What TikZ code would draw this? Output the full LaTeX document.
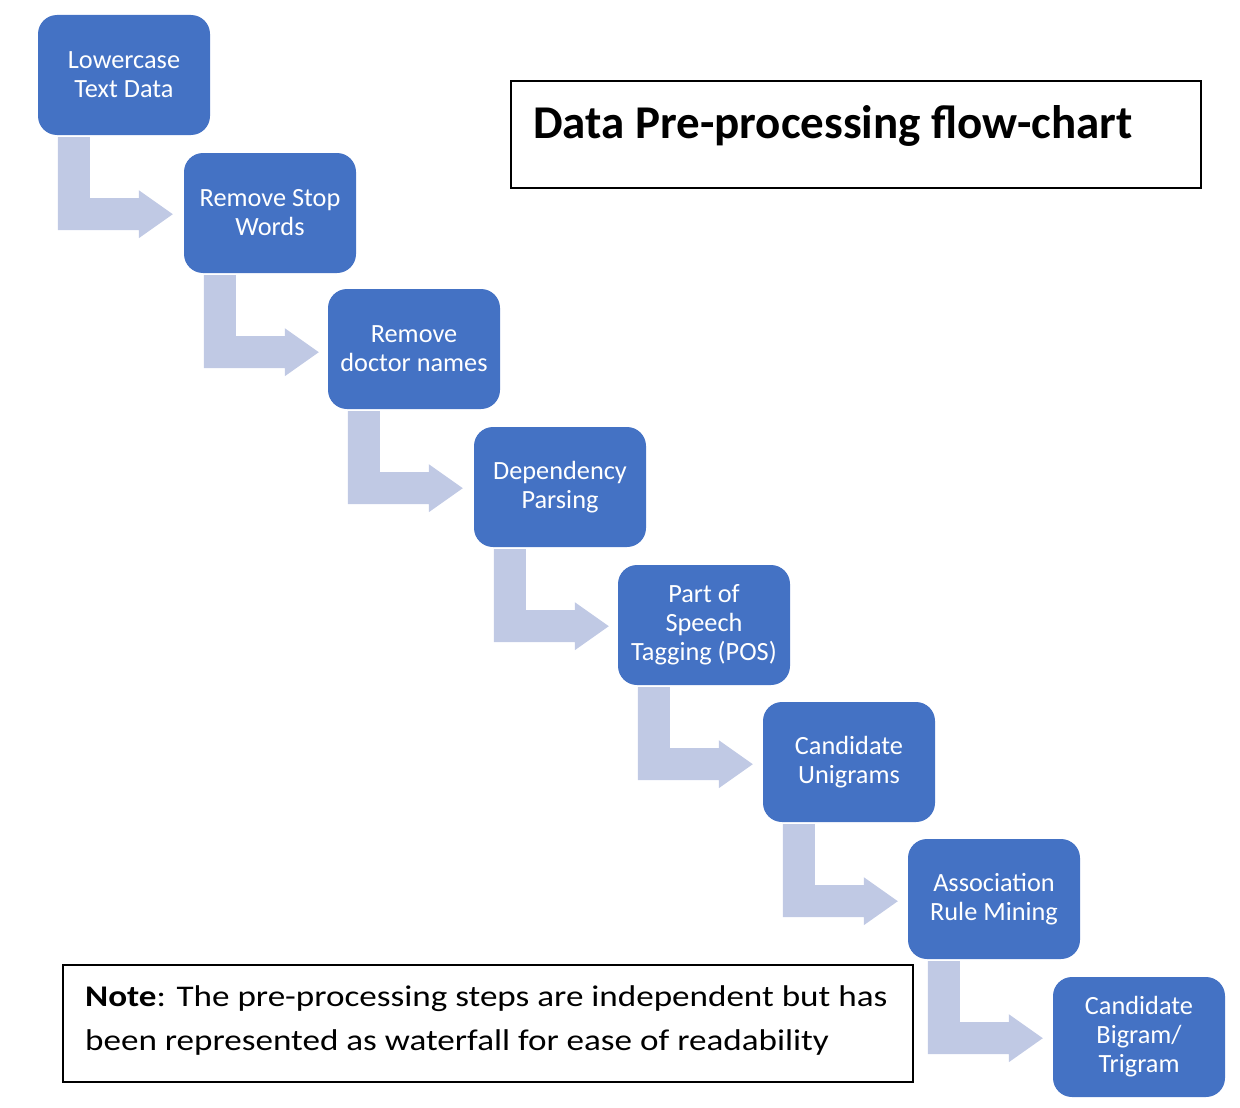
\documentclass[tikz,border=0pt]{standalone}
\usepackage{fontspec}
\setmainfont{Carlito}
\newfontfamily\notefont[FakeStretch=1.17]{Carlito}
\definecolor{boxblue}{HTML}{4472C4}
\definecolor{arrowblue}{HTML}{C0C9E4}
\tikzset{
  stepbox/.style={fill=boxblue, rounded corners=19pt, minimum width=172pt, minimum height=120pt,
    inner sep=0pt, text=white, align=center, font=\fontsize{26.3pt}{29pt}\selectfont},
  arrowshape/.style={fill=arrowblue},
  framebox/.style={draw=black, line width=1.8pt},
  notetext/.style={anchor=base west, inner sep=0pt, font=\notefont\fontsize{30pt}{36pt}\selectfont}
}
\newcommand\bentarrow[1]{%
  \fill[arrowshape, shift={(#1.south west)}] (20,2) -- (52,2) -- (52,63) -- (101,63) -- (101,55)
    -- (135,79) -- (101,103) -- (101,95) -- (20,95) -- cycle;}
\begin{document}
\begin{tikzpicture}[x=1pt,y=-1pt]
\useasboundingbox (0,0) rectangle (1240,1108);
\node[stepbox] (b1) at (124,75) {Lowercase\\Text Data};
\node[stepbox] (b2) at (270,213) {Remove Stop\\Words};
\node[stepbox] (b3) at (414,349) {Remove\\doctor names};
\node[stepbox] (b4) at (560,487) {Dependency\\Parsing};
\node[stepbox] (b5) at (704,625) {Part of\\Speech\\Tagging (POS)};
\node[stepbox] (b6) at (849,762) {Candidate\\Unigrams};
\node[stepbox] (b7) at (994,899) {Association\\Rule Mining};
\node[stepbox] (b8) at (1139,1037) {Candidate\\Bigram/\\Trigram};
\bentarrow{b1}
\bentarrow{b2}
\bentarrow{b3}
\bentarrow{b4}
\bentarrow{b5}
\bentarrow{b6}
\bentarrow{b7}
\node[framebox, minimum width=690pt, minimum height=107pt, inner sep=0pt] (title) at (856,134.5) {};
\node[anchor=base west, inner sep=0pt, font=\fontsize{47pt}{56pt}\selectfont\bfseries] (titletext) at (533,138) {Data Pre-processing flow-chart};
\node[framebox, minimum width=850pt, minimum height=117pt, inner sep=0pt] (note) at (488,1023.5) {};
\node[notetext] (note1) at (85,1006) {\textbf{Note}: The pre-processing steps are independent but has};
\node[notetext] (note2) at (85,1050) {been represented as waterfall for ease of readability};
\end{tikzpicture}
\end{document}
